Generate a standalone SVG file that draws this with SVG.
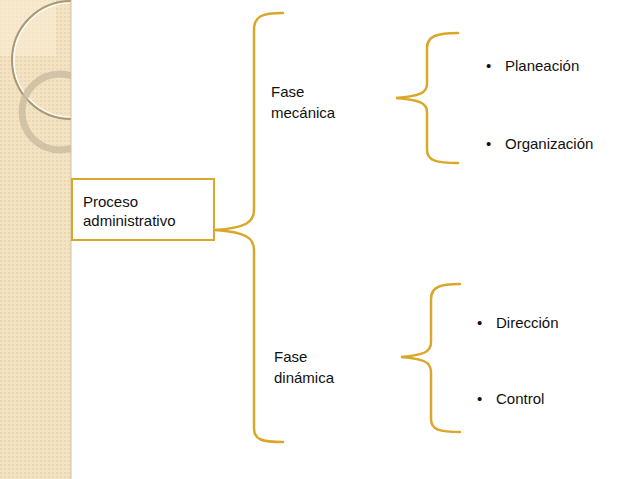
<svg xmlns="http://www.w3.org/2000/svg" width="638" height="479" viewBox="0 0 638 479">
<defs>
<pattern id="pt" width="4" height="4" patternUnits="userSpaceOnUse"><rect width="4" height="4" fill="#f3e3c3"/><rect width="2" height="2" fill="#ecd8b2"/></pattern>
<clipPath id="cp"><rect x="0" y="0" width="71" height="479"/></clipPath>
</defs>
<style>
.br{fill:none;stroke:#d9a72a;stroke-width:2.5;stroke-linecap:round}
text{font-family:"Liberation Sans",Arial,sans-serif;font-size:15px;fill:#111}
</style>
<rect width="638" height="479" fill="#fff"/>
<g id="panel">
<rect x="0" y="0" width="71" height="479" fill="url(#pt)"/>
<g clip-path="url(#cp)">
<rect x="0" y="0" width="56" height="56" fill="#f8ecd6" opacity="0.6"/>
<circle cx="71" cy="60" r="59" fill="none" stroke="#a89878" stroke-width="2"/>
<circle cx="71" cy="60" r="57" fill="none" stroke="#fff" stroke-width="1.2"/>
<circle cx="60" cy="112" r="38" fill="none" stroke="#c9bca0" stroke-width="7" opacity="0.8"/>
</g>
<line x1="71" y1="0" x2="71" y2="479" stroke="#cdbf9f" stroke-width="1"/>
</g>
<g id="proceso">
<rect x="72" y="179" width="142" height="61" fill="#fff" stroke="#d9a72a" stroke-width="2"/>
<text x="83" y="207">Proceso</text>
<text x="83" y="226">administrativo</text>
</g>
<g id="connectors">
<path class="br" d="M283,13 C262,13 254,16 254,30 L254,210 C254,222 246,228 215,230 C246,232 254,238 254,250 L254,428 C254,440 262,442 283,442"/>
<path class="br" d="M458,33 C437,33 427,36 427,48 L427,84 C427,93 420,96 396,98 C420,100 427,103 427,112 L427,150 C427,161 437,163 458,163"/>
<path class="br" d="M460,284 C440,284 431,287 431,299 L431,342 C431,352 424,355 401,357 C424,359 431,362 431,372 L431,419 C431,430 440,432 460,432"/>
</g>
<g id="mecanica"><text x="271" y="97">Fase</text><text x="271" y="118">mecánica</text></g>
<g id="dinamica"><text x="274" y="362">Fase</text><text x="274" y="383">dinámica</text></g>
<g id="planeacion"><text x="486" y="71">•</text><text x="505" y="71">Planeación</text></g>
<g id="organizacion"><text x="486" y="149">•</text><text x="505" y="149">Organización</text></g>
<g id="direccion"><text x="477" y="328">•</text><text x="496" y="328">Dirección</text></g>
<g id="control"><text x="477" y="404">•</text><text x="496" y="404">Control</text></g>
</svg>
